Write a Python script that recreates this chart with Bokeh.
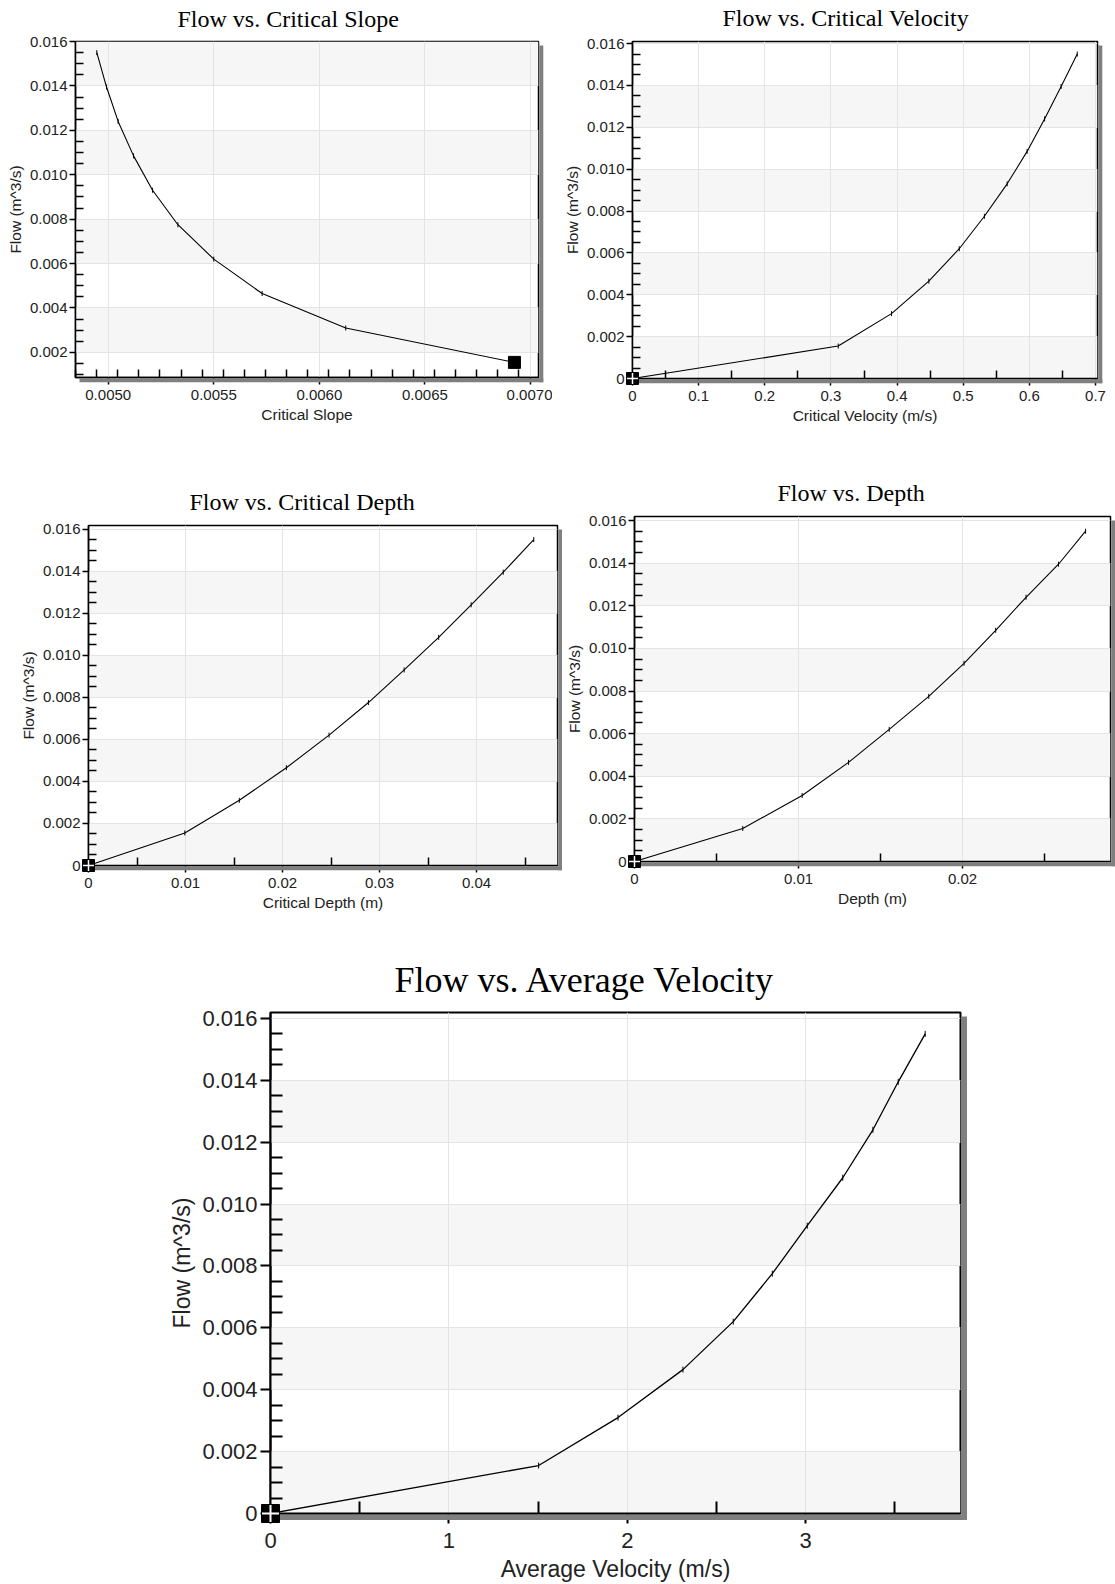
import numpy as np
from bokeh.plotting import figure
from bokeh.layouts import row, column, Spacer
from bokeh.models import FixedTicker, BoxAnnotation, Range1d
from bokeh.core.properties import value
from bokeh.embed import file_html
from bokeh.resources import INLINE

# ---------------- data ----------------
flow = [0.0, 0.00155, 0.0031, 0.00465, 0.0062, 0.00775, 0.0093, 0.01085, 0.0124, 0.01395, 0.0155]
# critical slope is undefined at zero flow -> uses flow[1:]
critical_slope = [0.006924, 0.006125, 0.005729, 0.00550, 0.00533, 0.00521, 0.00512, 0.005047, 0.004992, 0.004946]
critical_velocity = [0.0, 0.311, 0.3916, 0.448, 0.494, 0.532, 0.5664, 0.5966, 0.623, 0.648, 0.6724]
critical_depth = [0.0, 0.00993, 0.01555, 0.0204, 0.0248, 0.02886, 0.03254, 0.0361, 0.03945, 0.04276, 0.0459]
depth = [0.0, 0.0066, 0.01022, 0.01305, 0.01553, 0.01794, 0.02009, 0.02202, 0.02387, 0.02585, 0.0275]
average_velocity = [0.0, 1.503, 1.948, 2.312, 2.594, 2.813, 3.009, 3.208, 3.377, 3.519, 3.67]

# ---------------- ticks ----------------
y_ticks_slope = [0.002, 0.004, 0.006, 0.008, 0.010, 0.012, 0.014, 0.016]
y_labels_slope = ["0.002", "0.004", "0.006", "0.008", "0.010", "0.012", "0.014", "0.016"]
y_ticks = [0.0, 0.002, 0.004, 0.006, 0.008, 0.010, 0.012, 0.014, 0.016]
y_labels = ["0", "0.002", "0.004", "0.006", "0.008", "0.010", "0.012", "0.014", "0.016"]

x_ticks_slope = [0.0050, 0.0055, 0.0060, 0.0065, 0.0070]
x_labels_slope = ["0.0050", "0.0055", "0.0060", "0.0065", "0.0070"]
x_ticks_cv = [0.0, 0.1, 0.2, 0.3, 0.4, 0.5, 0.6, 0.7]
x_labels_cv = ["0", "0.1", "0.2", "0.3", "0.4", "0.5", "0.6", "0.7"]
x_ticks_cd = [0.0, 0.01, 0.02, 0.03, 0.04]
x_labels_cd = ["0", "0.01", "0.02", "0.03", "0.04"]
x_ticks_d = [0.0, 0.01, 0.02]
x_labels_d = ["0", "0.01", "0.02"]
x_ticks_av = [0.0, 1.0, 2.0, 3.0]
x_labels_av = ["0", "1", "2", "3"]

SANS = "Liberation Sans"
SERIF = "Liberation Serif"
TXT = "#222222"


def minor_list(lo, hi, step, majors):
    vals = np.round(np.arange(lo, hi + step / 2, step), 7)
    return [float(v) for v in vals if not any(abs(v - m) < step / 10 for m in majors)]


def make_chart(title, xlabel, xs, ys, xr, yr, xt, xl, xminor_step, yt, yl,
               frame, borders, title_off, big=False):
    fw, fh = frame
    bl, br, bt, bb = borders
    fs_tick = "22px" if big else "15px"
    fs_lab = "23px" if big else "15.5px"
    fs_title = "36px" if big else "24px"
    minor_in = 12 if big else 8

    p = figure(frame_width=fw, frame_height=fh, min_border_left=bl, min_border_right=br,
               min_border_top=bt, min_border_bottom=bb, x_range=Range1d(*xr), y_range=Range1d(*yr),
               output_backend="svg", toolbar_location=None, background_fill_color="white",
               border_fill_color="white", title=None)

    xtk = FixedTicker(ticks=xt, minor_ticks=minor_list(xr[0] - xminor_step, xr[1], xminor_step, xt))
    ytk = FixedTicker(ticks=yt, minor_ticks=minor_list(0.0, yr[1], 0.0005, yt))
    p.xaxis.ticker = xtk
    p.yaxis.ticker = ytk
    p.xaxis.major_label_overrides = {float(t): s for t, s in zip(xt, xl)}
    p.yaxis.major_label_overrides = {float(t): s for t, s in zip(yt, yl)}
    p.xaxis.axis_label = xlabel
    p.yaxis.axis_label = "Flow (m^3/s)"
    for ax in (p.xaxis[0], p.yaxis[0]):
        ax.axis_line_color = "black"
        ax.axis_line_width = 2 if big else 1.5
        ax.major_tick_in = 0
        ax.minor_tick_in = minor_in
        ax.minor_tick_out = 0
        ax.major_tick_line_color = "black"
        ax.major_tick_line_width = 2 if big else 1.5
        ax.minor_tick_line_color = "black"
        ax.minor_tick_line_width = 2 if big else 1.5
        ax.major_label_text_font = SANS
        ax.major_label_text_font_size = fs_tick
        ax.major_label_text_color = TXT
        ax.axis_label_text_font = SANS
        ax.axis_label_text_font_size = fs_lab
        ax.axis_label_text_font_style = "normal"
        ax.axis_label_text_color = TXT
    xa, ya = p.xaxis[0], p.yaxis[0]
    xa.major_tick_out = 10 if big else 7
    xa.major_label_standoff = 9 if big else 5
    xa.axis_label_standoff = 5 if big else 3
    ya.major_tick_out = 10 if big else 6
    ya.major_label_standoff = 3 if big else 2
    ya.axis_label_standoff = 4 if big else 3

    p.xgrid.ticker = xtk
    p.ygrid.ticker = ytk
    for g in (p.xgrid[0], p.ygrid[0]):
        g.grid_line_color = "#e4e4e4"
        g.grid_line_width = 1

    # alternating light bands between major y ticks
    for i in range(0, len(yt) - 1, 2):
        p.add_layout(BoxAnnotation(bottom=yt[i], top=yt[i + 1], fill_color="#f6f6f6", fill_alpha=1.0,
                                   line_color=None, level="image"))

    p.outline_line_color = "black"
    p.outline_line_width = 2 if big else 1.5
    p.outline_line_alpha = 1.0

    # curve
    p.line(xs, ys, line_color="black", line_width=1.3 if big else 1.1)
    p.scatter(xs[1:], ys[1:], marker="dash", size=6 if big else 5, angle=np.pi / 2,
              line_color="black", line_width=1)

    # drop shadow right / bottom of the frame (pixel offsets converted to data units)
    pxx = (xr[1] - xr[0]) / fw
    pxy = (yr[1] - yr[0]) / fh
    e0 = 1.0 if big else 0.8
    sw = 5.5 if big else 4.0
    p.quad(left=[xr[1] + e0 * pxx, xr[0] + 4 * pxx],
           right=[xr[1] + (e0 + sw) * pxx, xr[1] + (e0 + sw) * pxx],
           top=[yr[1] - 4 * pxy, yr[0] - e0 * pxy],
           bottom=[yr[0] - (e0 + sw) * pxy, yr[0] - (e0 + sw) * pxy],
           fill_color="#7f7f7f", line_color=None, level="overlay")

    # start marker
    msz = 18 if big else 12
    p.scatter(xs[:1], ys[:1], marker="square", size=msz, fill_color="black", line_color="black",
              level="overlay")
    if xs[0] == 0:
        p.scatter(xs[:1], ys[:1], marker="cross", size=msz - 1, line_color="white",
                  line_width=2 if big else 1.5, level="overlay")

    # title drawn as text just above the frame
    p.text(x=[xr[0]], y=[yr[1]], text=[title], x_offset=title_off[0], y_offset=-title_off[1],
           text_font=value(SERIF), text_font_size=fs_title, text_color="black",
           text_align="left", text_baseline="middle", level="overlay")
    return p


p1 = make_chart("Flow vs. Critical Slope", "Critical Slope", critical_slope, flow[1:],
                (0.004845, 0.007038), (0.00087, 0.016), x_ticks_slope, x_labels_slope, 0.0001,
                y_ticks_slope, y_labels_slope, (463, 336), (75, 14, 41, 53), (102, 23))
p2 = make_chart("Flow vs. Critical Velocity", "Critical Velocity (m/s)", critical_velocity, flow,
                (0.0, 0.703), (0.0, 0.0161), x_ticks_cv, x_labels_cv, 0.05,
                y_ticks, y_labels, (465, 337), (80, 18, 41, 52), (90, 24))
p3 = make_chart("Flow vs. Critical Depth", "Critical Depth (m)", critical_depth, flow,
                (0.0, 0.04835), (0.0, 0.01617), x_ticks_cd, x_labels_cd, 0.005,
                y_ticks, y_labels, (469, 340), (88, 5, 95, 55), (101, 24))
p4 = make_chart("Flow vs. Depth", "Depth (m)", depth, flow,
                (0.0, 0.02902), (0.0, 0.01619), x_ticks_d, x_labels_d, 0.005,
                y_ticks, y_labels, (476, 345), (72, 5, 86, 59), (143, 24))
p5 = make_chart("Flow vs. Average Velocity", "Average Velocity (m/s)", average_velocity, flow,
                (0.0, 3.868), (0.0, 0.01619), x_ticks_av, x_labels_av, 0.5,
                y_ticks, y_labels, (690, 501), (120, 30, 92, 71), (124, 33), big=True)

layout = column(row(p1, p2), row(column(p3), column(p4)), row(Spacer(width=150, height=664), p5))

open("out.html", "w").write(file_html(layout, INLINE))
